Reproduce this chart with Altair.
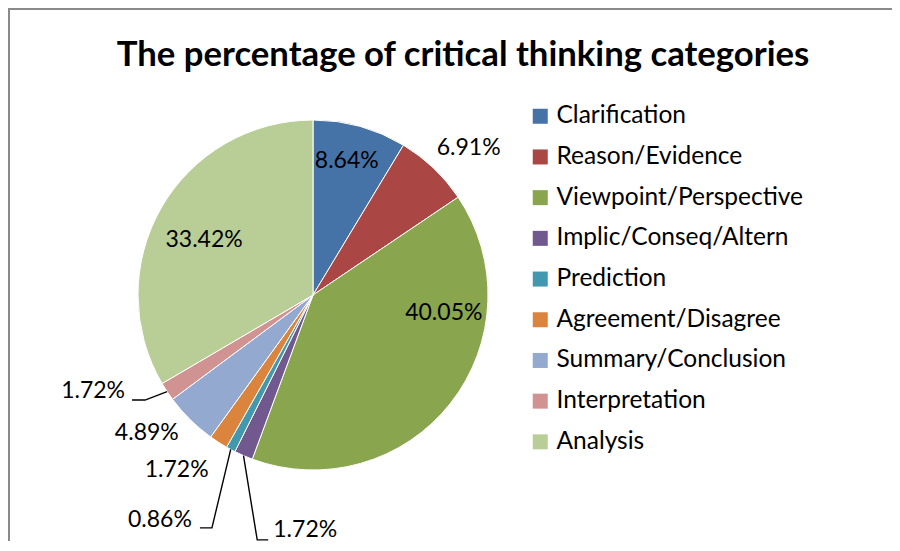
import math
import altair as alt
import pandas as pd

# ---------------- data ----------------
categories = [
    "Clarification", "Reason/Evidence", "Viewpoint/Perspective",
    "Implic/Conseq/Altern", "Prediction", "Agreement/Disagree",
    "Summary/Conclusion", "Interpretation", "Analysis",
]
values = [8.64, 6.91, 40.05, 1.72, 0.86, 1.72, 4.89, 1.72, 33.42]
title_text = "The percentage of critical thinking categories"

# ---------------- styles / layout ----------------
colors = ["#4572A7", "#AA4643", "#89A54E", "#71588F", "#4198AF",
          "#DB843D", "#93A9CF", "#D19392", "#B9CD96"]
R = 175                      # pie radius (px)
W, H = 884, 533              # view size
CX, CY = 305, 287            # pie centre inside the view
FONT = "Lato"
# label placement: angle shift from slice middle (deg) and distance from centre (px)
label_shift = [-1.4, 3.1, -30.4, -21.5, 6.2, 5.2, 5.7, 9.9, -3.0]
label_dist = [138, 214, 132, 235, 272, 222, 216, 240, 122]
# leader lines: category index -> (end dx, end dy(screen), elbow dx) relative to label centre
leaders = {7: (39, 9, 52), 4: (40, 8, 52), 3: (-37, 10, -48)}

# ---------------- derived table ----------------
total = sum(values)
rows, cum = [], 0.0
for i, (c, v) in enumerate(zip(categories, values)):
    mid = (cum + v / 2) / total * 360
    cum += v
    a = math.radians(mid + label_shift[i])
    rows.append({
        "idx": i, "category": c, "value": v, "mid": mid,
        "label": f"{v:.2f}%",
        "lx": label_dist[i] * math.sin(a),
        "ly": label_dist[i] * math.cos(a),
    })
df = pd.DataFrame(rows)

line_rows = []
for i, (edx, edy, elx) in leaders.items():
    r = df.iloc[i]
    m = math.radians(r["mid"])
    pts = [
        (R * math.sin(m), R * math.cos(m)),
        (r["lx"] + elx, r["ly"] - edy),
        (r["lx"] + edx, r["ly"] - edy),
    ]
    for k, (px, py) in enumerate(pts):
        line_rows.append({"category": r["category"], "pt": k, "x": px, "y": py})
lines_df = pd.DataFrame(line_rows)

xs = alt.Scale(domain=[-CX, W - CX], nice=False, zero=False)
ys = alt.Scale(domain=[CY - H, CY], nice=False, zero=False)

pie = alt.Chart(df).mark_arc(outerRadius=R, stroke="white", strokeWidth=1).encode(
    x=alt.XDatum(0, type="quantitative", scale=xs, axis=None),
    y=alt.YDatum(0, type="quantitative", scale=ys, axis=None),
    theta=alt.Theta("value:Q", stack=True),
    order=alt.Order("idx:Q", sort="ascending"),
    color=alt.Color(
        "category:N",
        sort=categories,
        scale=alt.Scale(domain=categories, range=colors),
        legend=alt.Legend(
            title=None, orient="none", legendX=520, legendY=96,
            symbolType="square", symbolSize=225, symbolStrokeWidth=0,
            labelFont=FONT, labelFontSize=24.5, labelColor="black",
            labelLimit=0, rowPadding=15.7, labelOffset=4, padding=0,
        ),
    ),
)

leader = alt.Chart(lines_df).mark_line(color="black", strokeWidth=1.4).encode(
    x=alt.X("x:Q", scale=xs, axis=None),
    y=alt.Y("y:Q", scale=ys, axis=None),
    detail="category:N",
    order="pt:Q",
)

labels = alt.Chart(df).mark_text(font=FONT, fontSize=23, color="black").encode(
    x=alt.X("lx:Q", scale=xs, axis=None),
    y=alt.Y("ly:Q", scale=ys, axis=None),
    text="label:N",
)

title = alt.Chart(pd.DataFrame({"t": [title_text]})).mark_text(
    font=FONT, fontWeight="bold", fontSize=34.7, baseline="alphabetic", align="center",
    color="black",
).encode(x=alt.value(455), y=alt.value(58), text="t:N")

border_top = alt.Chart(pd.DataFrame({"a": [0]})).mark_rule(color="#8a8a8a", strokeWidth=2).encode(
    x=alt.value(0), x2=alt.value(W), y=alt.value(1)
)
border_left = alt.Chart(pd.DataFrame({"a": [0]})).mark_rule(color="#8a8a8a", strokeWidth=2).encode(
    x=alt.value(1), y=alt.value(0), y2=alt.value(H)
)

chart = alt.layer(border_top, border_left, pie, leader, labels, title).properties(
    width=W, height=H, padding=0, autosize=alt.AutoSizeParams(type="none")
).configure_view(
    stroke="transparent", strokeWidth=0
).configure_axis(
    domain=False, ticks=False, labels=False, grid=False
)

chart.save("out.html", embed_options={"renderer": "svg", "actions": False})
